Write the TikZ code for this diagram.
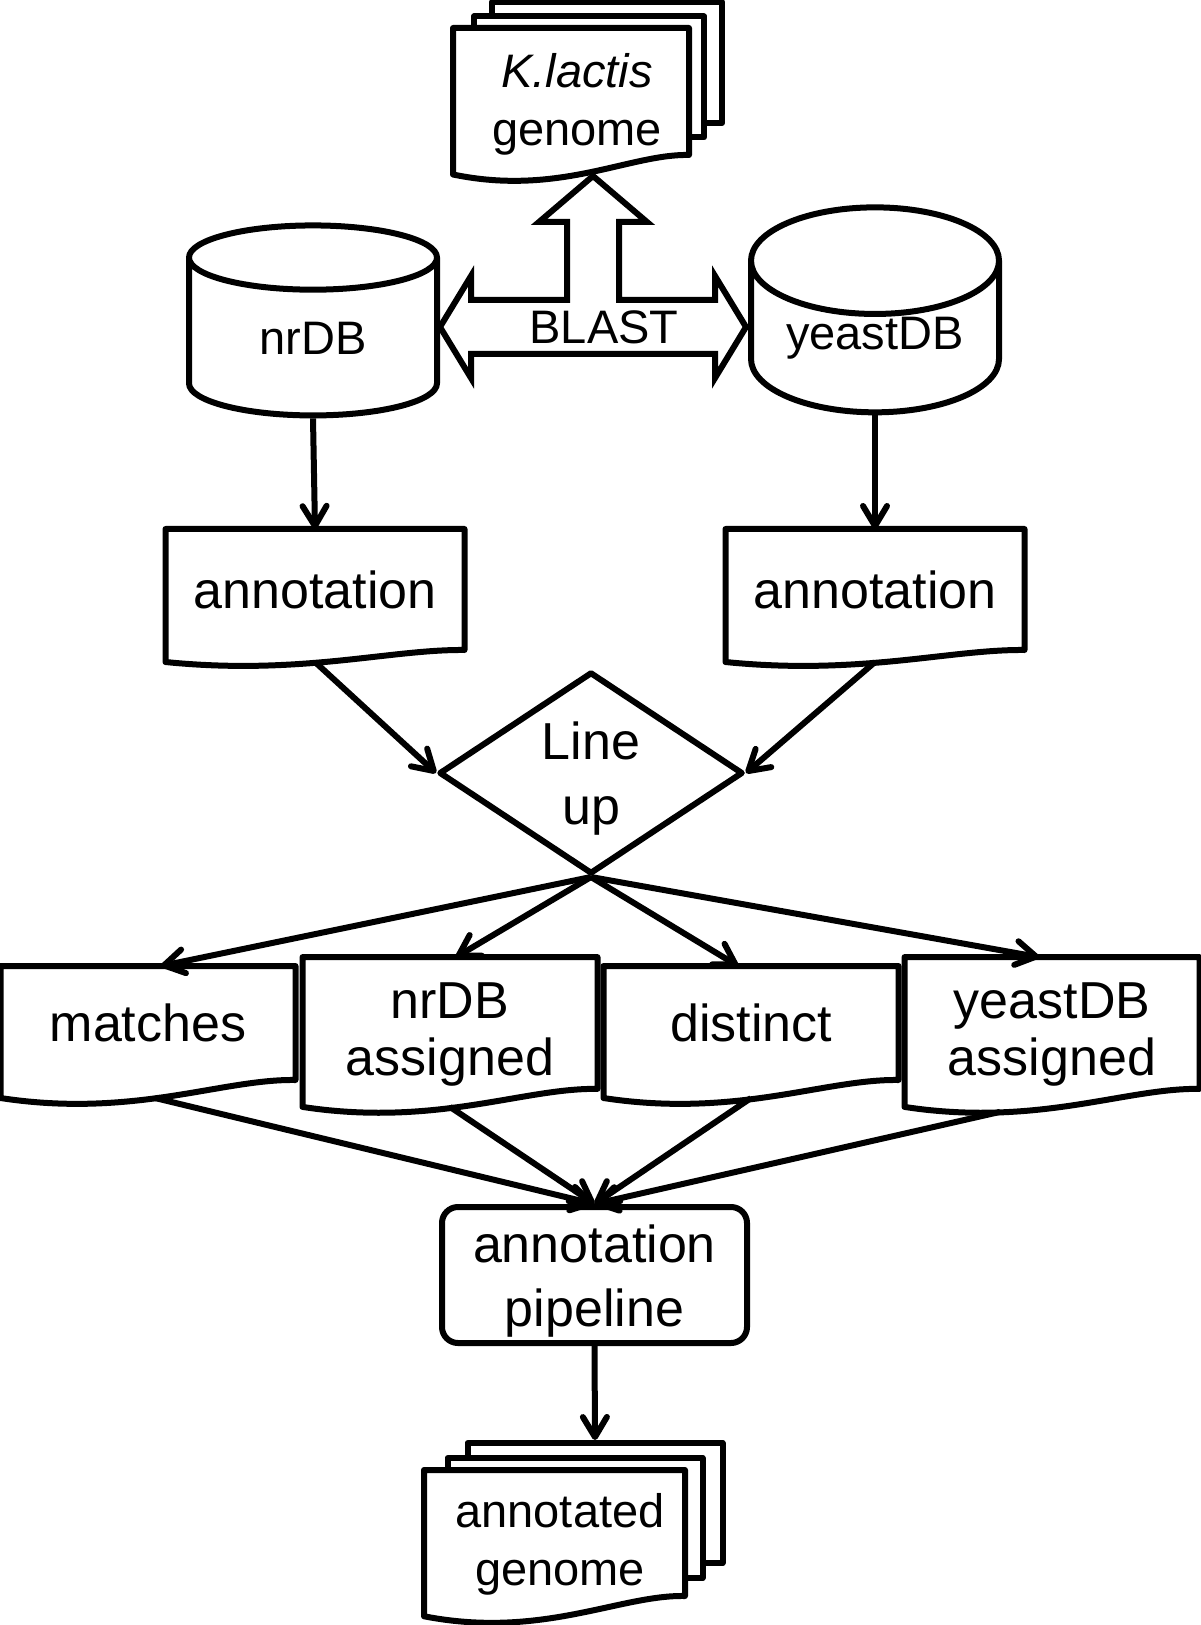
\documentclass[tikz,border=0pt]{standalone}
\usepackage{fontspec}
\setmainfont{Liberation Sans}
\usetikzlibrary{shapes.geometric,arrows.meta,calc}

% outline of a document sheet with a wavy lower edge
\newcommand{\wavydoc}[3][]{%
  \draw[#1] (#2.north west) -- (#2.north east) -- (#2.south east)
    .. controls ($(#2.south west)!0.75!(#2.south east)+(0,{0.05*#3})$)
    and ($(#2.south west)!0.45!(#2.south east)+(0,{-1.6*#3})$)
    .. ($(#2.south west)+(0,{-0.75*#3})$) -- cycle;}

\begin{document}
\begin{tikzpicture}[x=0.5pt,y=-0.5pt,line width=3pt,line join=round,
  big/.style={font=\fontsize{26}{28.5}\selectfont},
  small/.style={font=\fontsize{23.5}{29}\selectfont},
  docbox/.style={rectangle,inner sep=0pt,align=center},
  pagebox/.style={rectangle,draw,fill=white,inner sep=0pt},
  rowdoc/.style={docbox,big,minimum width=144.5pt,minimum height=54pt},
  db/.style={cylinder,shape border rotate=90,aspect=0.6,draw,inner sep=0pt,
    minimum width=124pt,minimum height=95pt,small},
  arr/.style={-{Straight Barb[length=10pt,width=12pt,round]},line width=3pt}]

\useasboundingbox (0,0) rectangle (1200,1625);

% K.lactis genome (stack of pages)
\node[pagebox,minimum width=115pt,minimum height=60.5pt] (klC) at (607,62.5) {};
\node[pagebox,minimum width=115pt,minimum height=60.5pt] (klB) at (589,77) {};
\node[docbox,minimum width=115pt,minimum height=60.5pt] (klA) at (571,91.5) {};
\wavydoc[fill=white]{klA}{13pt}
\node[small,align=center] (kltext) at (577,104) {\textit{K.lactis}\\genome};

% databases
\node[db] (nr) at (313,338) {nrDB};
\node[db] (yeast) at (875,338) {yeastDB};

% BLAST block arrow
\draw[line join=miter] (440,327) -- (471,276) -- (471,300) -- (567,300) -- (567,222)
  -- (539,222) -- (593,176) -- (647,222) -- (619,222) -- (619,300) -- (715,300)
  -- (715,276) -- (746,327) -- (715,378) -- (715,354) -- (471,354) -- (471,378) -- cycle;
\node[small] (blast) at (604,327) {BLAST};

% annotations
\node[docbox,big,minimum width=146.5pt,minimum height=57.5pt] (annL) at (315,589.5) {annotation};
\wavydoc{annL}{8pt}
\node[docbox,big,minimum width=146.5pt,minimum height=57.5pt] (annR) at (875,589.5) {annotation};
\wavydoc{annR}{8pt}

\node[diamond,draw,aspect=1.5,inner sep=0pt,minimum width=152pt,minimum height=101pt,
  align=center,font=\fontsize{26}{32.5}\selectfont] (lineup) at (591,773) {\rule{0pt}{24pt}Line\\up};

% results of the line up
\node[rowdoc] (match) at (148,1023) {matches};
\node[rowdoc] (nrA) at (450,1023) {\rule{0pt}{29pt}nrDB\\assigned};
\node[rowdoc] (dist) at (751,1023) {distinct};
\node[rowdoc] (yA) at (1052,1023) {\rule{0pt}{29pt}yeastDB\\assigned};
\foreach \n in {match,nrA,dist,yA} {\wavydoc{\n}{12pt}}

\node[draw,rounded corners=8pt,inner sep=0pt,align=center,font=\fontsize{26}{32}\selectfont,
  minimum width=152.5pt,minimum height=68pt] (pip) at (594.5,1275) {\rule{0pt}{25pt}annotation\\pipeline};

% annotated genome (stack of pages)
\node[pagebox,minimum width=127.5pt,minimum height=60pt] (agC) at (595,1503) {};
\node[pagebox,minimum width=127.5pt,minimum height=60pt] (agB) at (575,1518) {};
\node[docbox,minimum width=127.5pt,minimum height=60pt] (agA) at (554.5,1533) {};
\wavydoc[fill=white]{agA}{13.5pt}
\node[small,align=center] (agtext) at (560,1544.5) {annotated\\genome};

% connectors
\draw[arr] (nr.south) -- (annL.north);
\draw[arr] (yeast.south) -- (annR.north);
\draw[arr] ([yshift=-6pt]annL.south) -- (lineup.west);
\draw[arr] ([yshift=-6pt]annR.south) -- (lineup.east);
\draw[arr] (lineup.south) -- ([xshift=6.5pt]match.north);
\draw[arr] (lineup.south) -- ([xshift=3pt]nrA.north);
\draw[arr] (lineup.south) -- ([xshift=-6.5pt]dist.north);
\draw[arr] (lineup.south) -- ([xshift=-6.5pt]yA.north);
\draw[arr] ([xshift=3.5pt,yshift=-9pt]match.south) -- (pip.north);
\draw[arr] ([yshift=-9pt]nrA.south) -- (pip.north);
\draw[arr] ([yshift=-9pt]dist.south) -- (pip.north);
\draw[arr] ([xshift=-26pt,yshift=-11.5pt]yA.south) -- (pip.north);
\draw[arr] (pip.south) -- (agC.north);

\end{tikzpicture}
\end{document}
